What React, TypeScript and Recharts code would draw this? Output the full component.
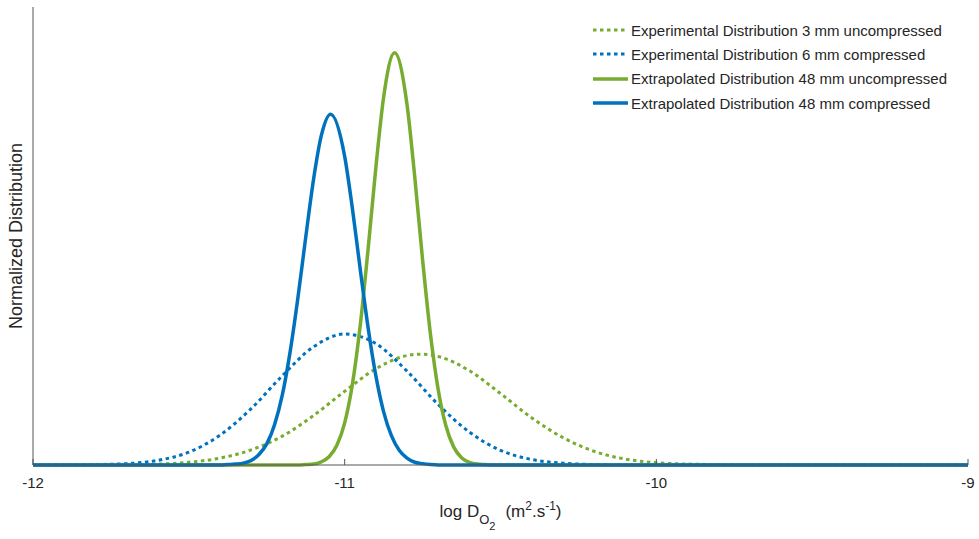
import React from 'react';
import { LineChart, Line, XAxis, YAxis } from 'recharts';

// values (log D on x, normalized height on y)
const expUncompX = [-12, -11.8, -11.7, -11.6, -11.5, -11.4, -11.3, -11.2, -11.1, -11.0, -10.9, -10.8, -10.755, -10.7, -10.6, -10.5, -10.4, -10.3, -10.2, -10.1, -10.0, -9.9, -9.8, -9.7, -9];
const expUncompY = [0, 0, 0.001, 0.002, 0.006, 0.015, 0.033, 0.063, 0.108, 0.161, 0.21, 0.239, 0.242, 0.237, 0.206, 0.156, 0.103, 0.06, 0.03, 0.013, 0.005, 0.002, 0.001, 0, 0];

const expCompX = [-12, -11.9, -11.8, -11.7, -11.6, -11.5, -11.4, -11.3, -11.2, -11.1, -11.0, -10.9, -10.8, -10.7, -10.6, -10.5, -10.4, -10.3, -10.2, -10.1, -9];
const expCompY = [0, 0, 0.001, 0.003, 0.01, 0.028, 0.065, 0.123, 0.195, 0.258, 0.286, 0.265, 0.205, 0.132, 0.072, 0.032, 0.012, 0.004, 0.001, 0, 0];

const extUncompX = [-12, -11.15, -11.125, -11.1, -11.075, -11.05, -11.025, -11.0, -10.975, -10.95, -10.925, -10.9, -10.875, -10.84, -10.8, -10.775, -10.75, -10.725, -10.7, -10.675, -10.65, -10.625, -10.6, -10.575, -10.55, -10.525, -9];
const extUncompY = [0, 0, 0.001, 0.002, 0.007, 0.018, 0.043, 0.092, 0.177, 0.305, 0.47, 0.649, 0.803, 0.9, 0.787, 0.628, 0.448, 0.287, 0.165, 0.085, 0.039, 0.016, 0.006, 0.002, 0.001, 0, 0];

const extCompX = [-12, -11.4, -11.375, -11.35, -11.325, -11.3, -11.275, -11.25, -11.225, -11.2, -11.175, -11.15, -11.125, -11.1, -11.075, -11.045, -11.0, -10.975, -10.95, -10.925, -10.9, -10.875, -10.85, -10.825, -10.8, -10.775, -10.75, -10.725, -10.7, -9];
const extCompY = [0, 0, 0.001, 0.002, 0.004, 0.01, 0.023, 0.046, 0.088, 0.153, 0.247, 0.365, 0.497, 0.623, 0.719, 0.766, 0.674, 0.559, 0.427, 0.301, 0.195, 0.116, 0.064, 0.032, 0.015, 0.006, 0.003, 0.001, 0, 0];

const xTicks = [-12, -11, -10, -9];

const GREEN = '#77AC30';
const BLUE = '#0072BD';
const FONT = '"Liberation Sans", Arial, Helvetica, sans-serif';
const TEXT = '#262626';
const AXIS = '#555555';

const toPoints = (xs: number[], ys: number[]) => xs.map((x, i) => ({ x, y: ys[i] }));

const series = [
  { name: 'Experimental Distribution 3 mm uncompressed', color: GREEN, dotted: true, data: toPoints(expUncompX, expUncompY) },
  { name: 'Experimental Distribution 6 mm compressed', color: BLUE, dotted: true, data: toPoints(expCompX, expCompY) },
  { name: 'Extrapolated Distribution 48 mm uncompressed', color: GREEN, dotted: false, data: toPoints(extUncompX, extUncompY) },
  { name: 'Extrapolated Distribution 48 mm compressed', color: BLUE, dotted: false, data: toPoints(extCompX, extCompY) },
];

const DASH = '3.5 3.5';

const XTick = (props: any) => {
  const { x, y, payload } = props;
  return (
    <g>
      <line x1={x} x2={x} y1={y} y2={y - 6} stroke={AXIS} strokeWidth={1} />
      <text x={x} y={y + 23} textAnchor="middle" fontSize={15} fill={TEXT} fontFamily={FONT}>
        {payload.value}
      </text>
    </g>
  );
};

const XLabel = (props: any) => {
  const vb = props.viewBox || {};
  const cx = vb.x + vb.width / 2;
  return (
    <text x={cx} y={517} textAnchor="middle" fontSize={17} fill={TEXT} fontFamily={FONT}>
      log D
      <tspan dy={7} fontSize={13}>O</tspan>
      <tspan dy={6} fontSize={11}>2</tspan>
      <tspan dy={-13} dx={10}>(m</tspan>
      <tspan dy={-7} fontSize={12}>2</tspan>
      <tspan dy={7}>.s</tspan>
      <tspan dy={-7} fontSize={12}>-1</tspan>
      <tspan dy={7}>)</tspan>
    </text>
  );
};

const YLabel = (props: any) => {
  const vb = props.viewBox || {};
  const cy = vb.y + vb.height / 2;
  return (
    <text
      x={22}
      y={cy}
      textAnchor="middle"
      fontSize={18}
      fill={TEXT}
      fontFamily={FONT}
      transform={`rotate(-90 22 ${cy})`}
    >
      Normalized Distribution
    </text>
  );
};

export default function App() {
  return (
    <div style={{ position: 'absolute', left: 0, top: 0, width: 979, height: 539, background: '#fff' }}>
      <LineChart width={979} height={539} margin={{ top: 7, right: 11, bottom: 0, left: 0 }}>
        <XAxis
          dataKey="x"
          type="number"
          domain={[-12, -9]}
          ticks={xTicks}
          allowDataOverflow
          height={74}
          tickSize={0}
          tickMargin={0}
          tickLine={false}
          tick={<XTick />}
          stroke={AXIS}
          label={<XLabel />}
        />
        <YAxis
          type="number"
          domain={[0, 1]}
          width={33}
          tick={false}
          tickLine={false}
          stroke={AXIS}
          label={<YLabel />}
        />
        {series.map((s) => (
          <Line
            key={s.name}
            data={s.data}
            dataKey="y"
            name={s.name}
            type="monotone"
            stroke={s.color}
            strokeWidth={s.dotted ? 3 : 3.5}
            strokeDasharray={s.dotted ? DASH : undefined}
            dot={false}
            activeDot={false}
            isAnimationActive={false}
          />
        ))}
      </LineChart>

      {/* legend, top right */}
      <div style={{ position: 'absolute', left: 593, top: 18, fontFamily: FONT, fontSize: 15, color: TEXT }}>
        {series.map((s) => (
          <div key={s.name} style={{ display: 'flex', alignItems: 'center', height: 24.3, whiteSpace: 'nowrap' }}>
            <svg width={35} height={6} style={{ marginRight: 3 }}>
              <line
                x1={0}
                x2={35}
                y1={3}
                y2={3}
                stroke={s.color}
                strokeWidth={s.dotted ? 3 : 3.5}
                strokeDasharray={s.dotted ? DASH : undefined}
              />
            </svg>
            <span>{s.name}</span>
          </div>
        ))}
      </div>
    </div>
  );
}
